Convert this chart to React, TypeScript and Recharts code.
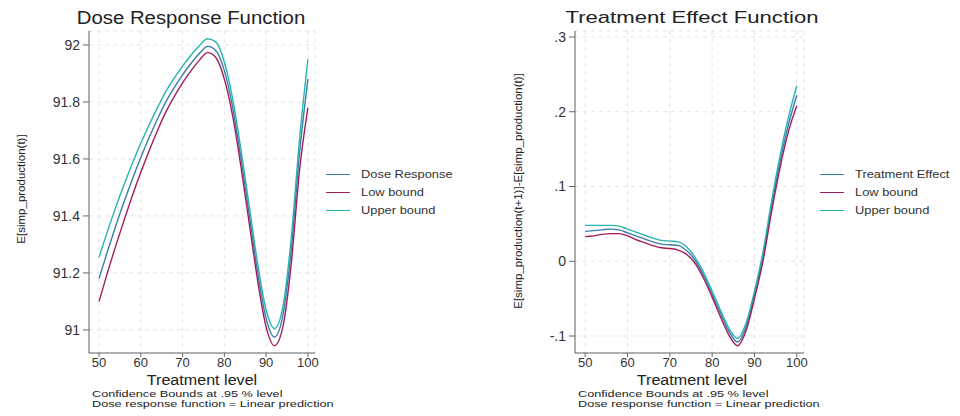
import { LineChart, Line, XAxis, YAxis, CartesianGrid, Legend } from 'recharts';

const FONT = '"Liberation Sans", Arial, sans-serif';

const treatment = [50, 52, 54, 56, 58, 60, 62, 64, 66, 68, 70, 72, 74, 76, 78, 80, 82, 84, 86, 88, 90, 92, 94, 96, 98, 100];

const doseResponse = [
  91.18, 91.275, 91.365, 91.45, 91.53, 91.605, 91.675, 91.74, 91.8, 91.85, 91.895, 91.935, 91.97,
  91.995, 91.98, 91.91, 91.78, 91.6, 91.4, 91.2, 91.04, 90.975, 91.05, 91.28, 91.62, 91.88,
];
const doseLow = [
  91.1, 91.2, 91.295, 91.385, 91.472, 91.553, 91.629, 91.7, 91.765, 91.819, 91.867, 91.909, 91.946,
  91.973, 91.955, 91.88, 91.75, 91.57, 91.37, 91.17, 91.01, 90.945, 91.01, 91.23, 91.56, 91.78,
];
const doseUpper = [
  91.255, 91.345, 91.43, 91.51, 91.585, 91.655, 91.72, 91.78, 91.837, 91.884, 91.926, 91.964, 91.997,
  92.022, 92.01, 91.94, 91.81, 91.63, 91.43, 91.23, 91.07, 91.005, 91.08, 91.32, 91.67, 91.95,
];

const effect = [
  0.04, 0.041, 0.042, 0.043, 0.042, 0.038, 0.034, 0.03, 0.026, 0.023, 0.022, 0.021, 0.014,
  0.001, -0.019, -0.044, -0.07, -0.094, -0.108, -0.088, -0.045, 0.006, 0.072, 0.132, 0.182, 0.222,
];
const effectLow = [
  0.033, 0.034, 0.036, 0.037, 0.037, 0.034, 0.029, 0.025, 0.021, 0.018, 0.017, 0.015, 0.009,
  -0.003, -0.023, -0.048, -0.075, -0.099, -0.113, -0.093, -0.05, 0.0, 0.065, 0.124, 0.173, 0.208,
];
const effectUpper = [
  0.048, 0.048, 0.048, 0.048, 0.047, 0.043, 0.039, 0.035, 0.031, 0.028, 0.027, 0.026, 0.019,
  0.005, -0.015, -0.04, -0.066, -0.09, -0.103, -0.083, -0.04, 0.012, 0.079, 0.14, 0.192, 0.235,
];

const xTicks = [50, 60, 70, 80, 90, 100];
const doseTicks = [91, 91.2, 91.4, 91.6, 91.8, 92];
const effectTicks = [-0.1, 0, 0.1, 0.2, 0.3];

const doseNames = ['Dose Response', 'Low bound', 'Upper bound'];
const effectNames = ['Treatment Effect', 'Low bound', 'Upper bound'];
const COLORS = ['#3a7dac', '#a21d5c', '#27b3ae'];

const doseData = treatment.map((t, i) => ({ t, mid: doseResponse[i], low: doseLow[i], up: doseUpper[i] }));
const effectData = treatment.map((t, i) => ({ t, mid: effect[i], low: effectLow[i], up: effectUpper[i] }));

const fmtDose = (v: number) => String(Number(v.toFixed(1)));
const fmtEffect = (v: number) => (Math.abs(v) < 1e-9 ? '0' : v.toFixed(1).replace('0.', '.'));

function LegendBox({ names }: { names: string[] }) {
  return (
    <div style={{ fontFamily: FONT, fontSize: 11, color: '#333' }}>
      {names.map((n, i) => (
        <div key={i} style={{ display: 'flex', alignItems: 'center', height: 18 }}>
          <span style={{ display: 'inline-block', width: 24, height: 0, borderTop: `1.3px solid ${COLORS[i]}`, marginRight: 11 }} />
          <span style={{ display: 'inline-block', transform: 'scaleX(1.17)', transformOrigin: 'left center' }}>{n}</span>
        </div>
      ))}
    </div>
  );
}

// stretched text to mimic the wide Stata export
const txt = (style: React.CSSProperties, text: string, sx: number, origin = 'center') => (
  <div style={{ position: 'absolute', fontFamily: FONT, color: '#222', whiteSpace: 'nowrap', ...style }}>
    <div style={{ transform: `scaleX(${sx})`, transformOrigin: origin }}>{text}</div>
  </div>
);

function Panel({
  left, data, domain, ticks, fmt, plotLeft, plotRight, names, legendGap,
}: {
  left: number; data: any[]; domain: [number, number]; ticks: number[]; fmt: (v: number) => string;
  plotLeft: number; plotRight: number; names: string[]; legendGap: number;
}) {
  return (
    <div style={{ position: 'absolute', left, top: 0 }}>
      <LineChart width={480} height={416} data={data} margin={{ top: 31, left: plotLeft - 50, right: 480 - plotRight, bottom: 33 }}>
        <CartesianGrid stroke="#e4e4e4" strokeDasharray="4 4" />
        <XAxis
          dataKey="t" type="number" domain={[47.6, 101.7]} ticks={xTicks} height={30}
          allowDataOverflow tickSize={4} tickMargin={1}
          axisLine={{ stroke: '#666' }} tickLine={{ stroke: '#666' }}
          tick={{ fill: '#333', fontSize: 13, fontFamily: FONT }}
        />
        <YAxis
          type="number" domain={domain} ticks={ticks} width={50} allowDataOverflow
          tickSize={6} tickMargin={3} tickFormatter={fmt}
          axisLine={{ stroke: '#666' }} tickLine={{ stroke: '#666' }}
          tick={{ fill: '#333', fontSize: 14, fontFamily: FONT }}
        />
        <Line dataKey="mid" name={names[0]} stroke={COLORS[0]} strokeWidth={1.4} dot={false} type="monotone" isAnimationActive={false} />
        <Line dataKey="low" name={names[1]} stroke={COLORS[1]} strokeWidth={1.4} dot={false} type="monotone" isAnimationActive={false} />
        <Line dataKey="up" name={names[2]} stroke={COLORS[2]} strokeWidth={1.4} dot={false} type="monotone" isAnimationActive={false} />
        <Legend
          layout="vertical" align="center" verticalAlign="middle"
          content={<LegendBox names={names} />}
          wrapperStyle={{ left: plotRight + legendGap, top: 165, width: 150 }}
        />
      </LineChart>
    </div>
  );
}

export default function App() {
  return (
    <div style={{ position: 'absolute', left: 0, top: 0, width: 960, height: 416, background: '#fff', overflow: 'hidden' }}>
      <Panel
        left={0} data={doseData} domain={[90.919, 92.049]} ticks={doseTicks}
        fmt={fmtDose} plotLeft={89} plotRight={315} names={doseNames} legendGap={11}
      />
      <Panel
        left={480} data={effectData} domain={[-0.1227, 0.308]} ticks={effectTicks}
        fmt={fmtEffect} plotLeft={95} plotRight={324} names={effectNames} legendGap={16}
      />
      {txt({ left: 41, width: 300, top: 8, textAlign: 'center', fontSize: 18 }, 'Dose Response Function', 1.13)}
      {txt({ left: 542, width: 300, top: 8, textAlign: 'center', fontSize: 17 }, 'Treatment Effect Function', 1.3)}
      {txt({ left: 102, width: 200, top: 372, textAlign: 'center', fontSize: 14 }, 'Treatment level', 1.15)}
      {txt({ left: 592, width: 200, top: 372, textAlign: 'center', fontSize: 14 }, 'Treatment level', 1.15)}
      {txt({ left: 92, top: 390, height: 9, fontSize: 9, lineHeight: '9px' }, 'Confidence Bounds at .95 % level', 1.41, 'left')}
      {txt({ left: 92, top: 399.5, height: 9, fontSize: 9, lineHeight: '9px' }, 'Dose response function = Linear prediction', 1.41, 'left')}
      {txt({ left: 578, top: 390, height: 9, fontSize: 9, lineHeight: '9px' }, 'Confidence Bounds at .95 % level', 1.41, 'left')}
      {txt({ left: 578, top: 399.5, height: 9, fontSize: 9, lineHeight: '9px' }, 'Dose response function = Linear prediction', 1.41, 'left')}
      {txt({ left: 21 - 150, width: 300, top: 190 - 7, textAlign: 'center', fontSize: 11.5, transform: 'rotate(-90deg)' }, 'E[simp_production(t)]', 1)}
      {txt({ left: 518 - 150, width: 300, top: 192 - 7, textAlign: 'center', fontSize: 11.5, transform: 'rotate(-90deg)' }, 'E[simp_production(t+1)]-E[simp_production(t)]', 1)}
    </div>
  );
}
